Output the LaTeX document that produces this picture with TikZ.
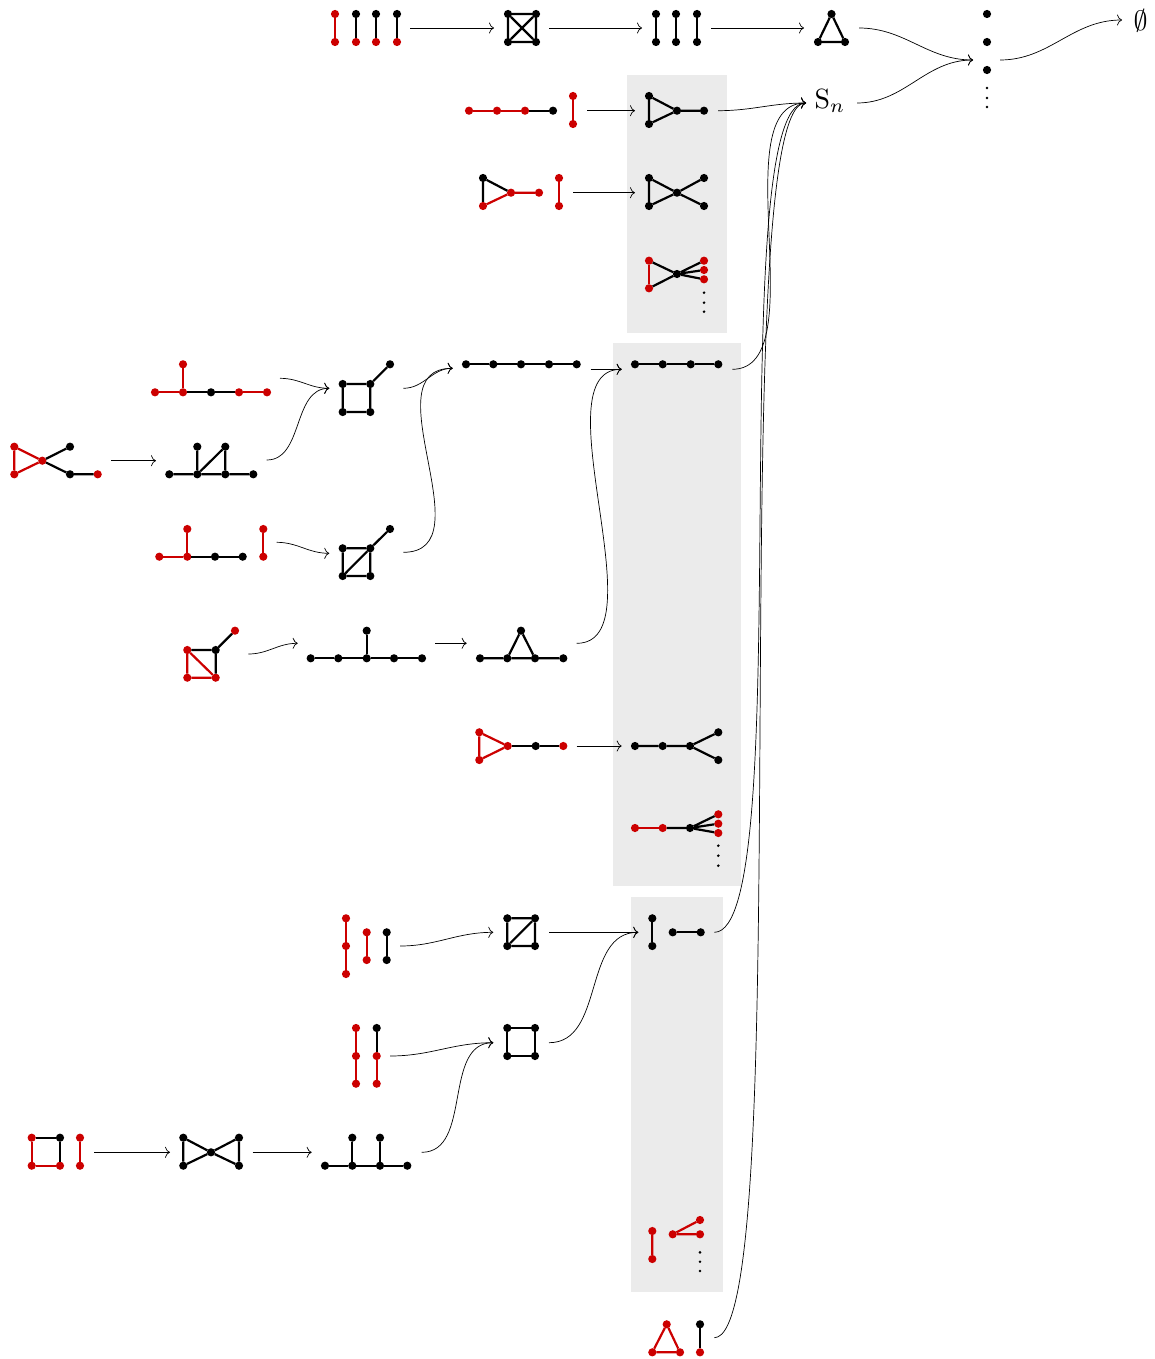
\documentclass[tikz,border=0pt]{standalone}
\usepackage{graphicx}
\usetikzlibrary{arrows.meta}
\definecolor{gred}{RGB}{204,0,0}
\definecolor{boxgray}{RGB}{235,235,235}
\newcommand\vtx[4]{\node[#4] (#1) at (#2,#3) {};}
\begin{document}
\begin{tikzpicture}[x=1pt,y=-1pt,
  bv/.style={circle,fill=black,inner sep=0pt,outer sep=0pt,minimum size=8.2pt},
  rv/.style={bv,fill=gred},
  sv/.style={circle,fill=black,inner sep=0pt,outer sep=0pt,minimum size=2.9pt},
  be/.style={line width=2.2pt,draw=black},
  re/.style={line width=2.2pt,draw=gred},
  arr/.style={line width=0.7pt,-{Computer Modern Rightarrow[length=5pt,width=11pt]}}]
\useasboundingbox (0,0) rectangle (1154,1359);
% grey boxes
\fill[boxgray] (627,75) rectangle (727,333);
\fill[boxgray] (613,343) rectangle (741,886);
\fill[boxgray] (631,897) rectangle (723,1292);

% ---------- row 1 ----------
\vtx{A1t}{335}{14}{rv}\vtx{A1b}{335}{42}{rv}
\vtx{A2t}{356}{14}{bv}\vtx{A2b}{356}{42}{rv}
\vtx{A3t}{376}{14}{bv}\vtx{A3b}{376}{42}{rv}
\vtx{A4t}{397}{14}{bv}\vtx{A4b}{397}{42}{rv}
\draw[re] (A1t)--(A1b);
\draw[be] (A2t)--(A2b) (A3t)--(A3b) (A4t)--(A4b);
\vtx{K1}{508}{14}{bv}\vtx{K2}{536}{14}{bv}\vtx{K3}{508}{42}{bv}\vtx{K4}{536}{42}{bv}
\draw[be] (K1)--(K2) (K2)--(K4) (K4)--(K3) (K3)--(K1) (K1)--(K4) (K2)--(K3);
\vtx{C1t}{656}{14}{bv}\vtx{C1b}{656}{42}{bv}
\vtx{C2t}{676}{14}{bv}\vtx{C2b}{676}{42}{bv}
\vtx{C3t}{697}{14}{bv}\vtx{C3b}{697}{42}{bv}
\draw[be] (C1t)--(C1b) (C2t)--(C2b) (C3t)--(C3b);
\vtx{T1}{831.5}{14}{bv}\vtx{T2}{818}{42}{bv}\vtx{T3}{845}{42}{bv}
\draw[be] (T1)--(T2) (T2)--(T3) (T3)--(T1);
\vtx{D1}{987}{14}{bv}\vtx{D2}{987}{42}{bv}\vtx{D3}{987}{70}{bv}
\vtx{d1}{987}{88}{sv}\vtx{d2}{987}{98}{sv}\vtx{d3}{987}{107}{sv}
\node[anchor=base,inner sep=0pt] (emp) at (1140.5,30.7) {\scalebox{2.8}{$\emptyset$}};
\node[anchor=base west,inner sep=0pt] (sn) at (814.5,108.3) {\scalebox{2.78}{$\mathrm{S}_n$}};
\coordinate (snin) at (806,103);
\coordinate (snout) at (857,103);
\coordinate (colin) at (973,60);
\coordinate (colout) at (1000,60);
\coordinate (empin) at (1122,20);
\coordinate (r1a) at (410,28);\coordinate (r1b) at (494,28);
\coordinate (r1c) at (549,28);\coordinate (r1d) at (642,28);
\coordinate (r1e) at (711,28);\coordinate (r1f) at (804,28);
\coordinate (r1g) at (859,28);
\draw[arr] (r1a)--(r1b);
\draw[arr] (r1c)--(r1d);
\draw[arr] (r1e)--(r1f);
\draw[arr] (r1g) .. controls +(46,0) and +(-46,0) .. (colin);
\draw[arr] (snout) .. controls +(48,0) and +(-48,0) .. (colin);
\draw[arr] (colout) .. controls +(50,0) and +(-50,0) .. (empin);

% ---------- row 2 ----------
\vtx{P1}{469}{110.7}{rv}\vtx{P2}{497}{110.7}{rv}\vtx{P3}{525}{110.7}{rv}\vtx{P4}{553}{110.7}{bv}
\draw[re] (P1)--(P2) (P2)--(P3); \draw[be] (P3)--(P4);
\vtx{PV1}{573}{96}{rv}\vtx{PV2}{573}{124}{rv}
\draw[re] (PV1)--(PV2);
\vtx{Q1}{649}{96}{bv}\vtx{Q2}{649}{124}{bv}\vtx{Q3}{677}{110.7}{bv}\vtx{Q4}{704}{110.7}{bv}
\draw[be] (Q1)--(Q2) (Q1)--(Q3) (Q2)--(Q3) (Q3)--(Q4);
\coordinate (r2a) at (587,110.7);\coordinate (r2b) at (635,110.7);
\coordinate (r2c) at (718,110.7);
\draw[arr] (r2a)--(r2b);
\draw[arr] (r2c) .. controls +(35,0) and +(-35,0) .. (snin);

% ---------- row 3 ----------
\vtx{E1}{483}{178}{bv}\vtx{E2}{483}{206}{rv}\vtx{E3}{511}{192.7}{rv}\vtx{E4}{539}{192.7}{rv}
\draw[be] (E1)--(E2) (E1)--(E3); \draw[re] (E2)--(E3) (E3)--(E4);
\vtx{EV1}{559}{178}{rv}\vtx{EV2}{559}{206}{rv}
\draw[re] (EV1)--(EV2);
\vtx{F1}{649}{178}{bv}\vtx{F2}{649}{206}{bv}\vtx{F3}{677}{192.7}{bv}\vtx{F4}{704}{178}{bv}\vtx{F5}{704}{206}{bv}
\draw[be] (F1)--(F2) (F1)--(F3) (F2)--(F3) (F3)--(F4) (F3)--(F5);
\coordinate (r3a) at (573,192.7);\coordinate (r3b) at (635,192.7);
\draw[arr] (r3a)--(r3b);

% ---------- row 4 (box) ----------
\vtx{H1}{649}{260.7}{rv}\vtx{H2}{649}{288.3}{rv}\vtx{H3}{677}{274}{bv}
\vtx{H4}{704}{260.7}{rv}\vtx{H5}{704}{270}{rv}\vtx{H6}{704}{279.3}{rv}
\vtx{h1}{704}{292.7}{sv}\vtx{h2}{704}{302.7}{sv}\vtx{h3}{704}{311.7}{sv}
\draw[re] (H1)--(H2);
\draw[be] (H1)--(H3) (H2)--(H3) (H3)--(H4) (H3)--(H5) (H3)--(H6);

% ---------- middle ----------
\vtx{M1}{155}{392.3}{rv}\vtx{M2}{183}{392.3}{rv}\vtx{M3}{183}{364.3}{rv}
\vtx{M4}{211}{392.3}{bv}\vtx{M5}{239}{392.3}{rv}\vtx{M6}{267}{392.3}{rv}
\draw[re] (M1)--(M2) (M2)--(M3) (M5)--(M6); \draw[be] (M2)--(M4) (M4)--(M5);

\vtx{L1}{14.3}{446.7}{rv}\vtx{L2}{14.3}{474.3}{rv}\vtx{L3}{42.3}{460.7}{rv}
\vtx{L4}{70}{446.7}{bv}\vtx{L5}{70}{474.3}{bv}\vtx{L6}{97.7}{474.3}{rv}
\draw[re] (L1)--(L2) (L1)--(L3) (L2)--(L3); \draw[be] (L3)--(L4) (L3)--(L5) (L5)--(L6);

\vtx{N1}{169.3}{474.3}{bv}\vtx{N2}{197.3}{474.3}{bv}\vtx{N3}{225.3}{474.3}{bv}
\vtx{N4}{253.3}{474.3}{bv}\vtx{N5}{197.3}{446.7}{bv}\vtx{N6}{225.3}{446.7}{bv}
\draw[be] (N1)--(N2) (N2)--(N3) (N3)--(N4) (N2)--(N5) (N3)--(N6) (N2)--(N6);

\vtx{O1}{342.7}{384}{bv}\vtx{O2}{370.3}{384}{bv}\vtx{O3}{342.7}{412}{bv}\vtx{O4}{370.3}{412}{bv}\vtx{O5}{390}{364.3}{bv}
\draw[be] (O1)--(O2) (O2)--(O4) (O4)--(O3) (O3)--(O1) (O2)--(O5);

\vtx{U1}{159.3}{556.7}{rv}\vtx{U2}{187.3}{556.7}{rv}\vtx{U3}{187.3}{529}{rv}
\vtx{U4}{215}{556.7}{bv}\vtx{U5}{242.7}{556.7}{bv}\vtx{U6}{263.3}{529}{rv}\vtx{U7}{263.3}{556.7}{rv}
\draw[re] (U1)--(U2) (U2)--(U3) (U6)--(U7); \draw[be] (U2)--(U4) (U4)--(U5);

\vtx{V1}{342.7}{548.3}{bv}\vtx{V2}{370.3}{548.3}{bv}\vtx{V3}{342.7}{576}{bv}\vtx{V4}{370.3}{576}{bv}\vtx{V5}{390}{529}{bv}
\draw[be] (V1)--(V2) (V2)--(V4) (V4)--(V3) (V3)--(V1) (V3)--(V2) (V2)--(V5);

\vtx{W1}{466}{364.3}{bv}\vtx{W2}{493.3}{364.3}{bv}\vtx{W3}{521}{364.3}{bv}\vtx{W4}{549}{364.3}{bv}\vtx{W5}{576.7}{364.3}{bv}
\draw[be] (W1)--(W2) (W2)--(W3) (W3)--(W4) (W4)--(W5);
\vtx{X1}{635}{364.3}{bv}\vtx{X2}{662.7}{364.3}{bv}\vtx{X3}{690.7}{364.3}{bv}\vtx{X4}{718.3}{364.3}{bv}
\draw[be] (X1)--(X2) (X2)--(X3) (X3)--(X4);

\vtx{Y1}{187.3}{650}{rv}\vtx{Y2}{215.7}{650}{bv}\vtx{Y3}{187.3}{677.7}{rv}\vtx{Y4}{215.7}{677.7}{rv}\vtx{Y5}{235}{630.7}{rv}
\draw[be] (Y1)--(Y2) (Y2)--(Y4) (Y2)--(Y5); \draw[re] (Y1)--(Y3) (Y3)--(Y4) (Y1)--(Y4);

\vtx{Z1}{310.7}{658.3}{bv}\vtx{Z2}{338.3}{658.3}{bv}\vtx{Z3}{366.7}{658.3}{bv}\vtx{Z4}{394}{658.3}{bv}\vtx{Z5}{422}{658.3}{bv}\vtx{Z6}{366.7}{630.7}{bv}
\draw[be] (Z1)--(Z2) (Z2)--(Z3) (Z3)--(Z4) (Z4)--(Z5) (Z3)--(Z6);

\vtx{AA1}{480}{658.3}{bv}\vtx{AA2}{507.3}{658.3}{bv}\vtx{AA3}{535}{658.3}{bv}\vtx{AA4}{563.3}{658.3}{bv}\vtx{AA5}{521}{630.7}{bv}
\draw[be] (AA1)--(AA2) (AA2)--(AA3) (AA3)--(AA4) (AA2)--(AA5) (AA3)--(AA5);

\vtx{AB1}{479.3}{732.3}{rv}\vtx{AB2}{479.3}{760}{rv}\vtx{AB3}{507.7}{746}{rv}\vtx{AB4}{535.7}{746}{bv}\vtx{AB5}{563.3}{746}{rv}
\draw[re] (AB1)--(AB2) (AB1)--(AB3) (AB2)--(AB3); \draw[be] (AB3)--(AB4) (AB4)--(AB5);

\vtx{AC1}{635}{746}{bv}\vtx{AC2}{662.7}{746}{bv}\vtx{AC3}{690}{746}{bv}\vtx{AC4}{718.3}{732.3}{bv}\vtx{AC5}{718.3}{760}{bv}
\draw[be] (AC1)--(AC2) (AC2)--(AC3) (AC3)--(AC4) (AC3)--(AC5);

\vtx{AD1}{635}{828}{rv}\vtx{AD2}{662.7}{828}{rv}\vtx{AD3}{690}{828}{bv}
\vtx{AD4}{718.3}{814.3}{rv}\vtx{AD5}{718.3}{823.7}{rv}\vtx{AD6}{718.3}{833}{rv}
\vtx{ad1}{718.3}{845.7}{sv}\vtx{ad2}{718.3}{855.7}{sv}\vtx{ad3}{718.3}{865.7}{sv}
\draw[re] (AD1)--(AD2); \draw[be] (AD2)--(AD3) (AD3)--(AD4) (AD3)--(AD5) (AD3)--(AD6);

\coordinate (m1a) at (280,378.3);\coordinate (m1b) at (329.3,388.3);
\coordinate (m2a) at (111,460.7);\coordinate (m2b) at (156,460.7);
\coordinate (m3a) at (266.7,460);
\coordinate (m4a) at (403.3,388.3);\coordinate (m4b) at (452.7,368.3);
\coordinate (m5a) at (276.7,542.3);\coordinate (m5b) at (329.3,553.3);
\coordinate (m6a) at (403.3,552.3);
\coordinate (m7a) at (590.7,369.3);\coordinate (m7b) at (621.7,369.3);
\coordinate (m8a) at (732.3,369.3);
\coordinate (m9a) at (248.3,654);\coordinate (m9b) at (297.7,643.3);
\coordinate (m10a) at (435,643.3);\coordinate (m10b) at (466.7,643.3);
\coordinate (m11a) at (576.7,643.3);
\coordinate (m12a) at (576.7,746);\coordinate (m12b) at (621.7,746);
\draw[arr] (m1a) .. controls +(20,0) and +(-20,0) .. (m1b);
\draw[arr] (m2a)--(m2b);
\draw[arr] (m3a) .. controls +(37,0) and +(-37,0) .. (m1b);
\draw[arr] (m4a) .. controls +(21,0) and +(-21,0) .. (m4b);
\draw[arr] (m5a) .. controls +(21,0) and +(-21,0) .. (m5b);
\draw[arr] (m6a) .. controls +(84,0) and +(-84,0) .. (m4b);
\draw[arr] (m7a)--(m7b);
\draw[arr] (m8a) .. controls +(84,0) and +(-84,0) .. (snin);
\draw[arr] (m9a) .. controls +(20,0) and +(-20,0) .. (m9b);
\draw[arr] (m10a)--(m10b);
\draw[arr] (m11a) .. controls +(84,0) and +(-84,0) .. (m7b);
\draw[arr] (m12a)--(m12b);

% ---------- lower ----------
\vtx{AE1}{346}{918.3}{rv}\vtx{AE2}{346}{946}{rv}\vtx{AE3}{346}{974}{rv}
\vtx{AE4}{366.7}{932.3}{rv}\vtx{AE5}{366.7}{960}{rv}
\vtx{AE6}{386.7}{932.3}{bv}\vtx{AE7}{386.7}{960}{bv}
\draw[re] (AE1)--(AE2) (AE2)--(AE3) (AE4)--(AE5); \draw[be] (AE6)--(AE7);

\vtx{AF1}{507.3}{918.3}{bv}\vtx{AF2}{535}{918.3}{bv}\vtx{AF3}{507.3}{946}{bv}\vtx{AF4}{535}{946}{bv}
\draw[be] (AF1)--(AF2) (AF2)--(AF4) (AF4)--(AF3) (AF3)--(AF1) (AF3)--(AF2);

\vtx{AG1}{652.3}{918.3}{bv}\vtx{AG2}{652.3}{946}{bv}\vtx{AG3}{672.7}{932.3}{bv}\vtx{AG4}{700.7}{932.3}{bv}
\draw[be] (AG1)--(AG2) (AG3)--(AG4);

\vtx{AH1}{356}{1028}{rv}\vtx{AH2}{356}{1056}{rv}\vtx{AH3}{356}{1083.7}{rv}
\vtx{AH4}{376.7}{1028}{bv}\vtx{AH5}{376.7}{1056}{rv}\vtx{AH6}{376.7}{1083.7}{rv}
\draw[re] (AH1)--(AH2) (AH2)--(AH3) (AH5)--(AH6); \draw[be] (AH4)--(AH5);

\vtx{AI1}{507.3}{1028}{bv}\vtx{AI2}{535}{1028}{bv}\vtx{AI3}{507.3}{1056}{bv}\vtx{AI4}{535}{1056}{bv}
\draw[be] (AI1)--(AI2) (AI2)--(AI4) (AI4)--(AI3) (AI3)--(AI1);

\vtx{AJ1}{31.7}{1137.7}{rv}\vtx{AJ2}{60}{1137.7}{bv}\vtx{AJ3}{31.7}{1165.7}{rv}\vtx{AJ4}{60}{1165.7}{rv}
\vtx{AJ5}{80}{1137.7}{rv}\vtx{AJ6}{80}{1165.7}{rv}
\draw[be] (AJ1)--(AJ2) (AJ2)--(AJ4); \draw[re] (AJ1)--(AJ3) (AJ3)--(AJ4) (AJ5)--(AJ6);

\vtx{AK1}{183.3}{1137.7}{bv}\vtx{AK2}{183.3}{1165.7}{bv}\vtx{AK3}{211}{1152.3}{bv}\vtx{AK4}{239}{1137.7}{bv}\vtx{AK5}{239}{1165.7}{bv}
\draw[be] (AK1)--(AK2) (AK4)--(AK5) (AK1)--(AK3) (AK2)--(AK3) (AK3)--(AK4) (AK3)--(AK5);

\vtx{AL1}{325}{1165.7}{bv}\vtx{AL2}{352.3}{1165.7}{bv}\vtx{AL3}{380}{1165.7}{bv}\vtx{AL4}{407.3}{1165.7}{bv}
\vtx{AL5}{352.3}{1137.7}{bv}\vtx{AL6}{380}{1137.7}{bv}
\draw[be] (AL1)--(AL2) (AL2)--(AL3) (AL3)--(AL4) (AL2)--(AL5) (AL3)--(AL6);

\vtx{AM1}{652.3}{1231}{rv}\vtx{AM2}{652.3}{1259}{rv}
\vtx{AM3}{672.7}{1234.3}{rv}\vtx{AM4}{700}{1220}{rv}\vtx{AM5}{700}{1234.3}{rv}
\vtx{am1}{700}{1252.3}{sv}\vtx{am2}{700}{1261.7}{sv}\vtx{am3}{700}{1271}{sv}
\draw[re] (AM1)--(AM2) (AM3)--(AM4) (AM3)--(AM5);

\vtx{AN1}{666.7}{1324.3}{rv}\vtx{AN2}{652.3}{1352.3}{rv}\vtx{AN3}{680}{1352.3}{rv}
\vtx{AN4}{700}{1324.3}{bv}\vtx{AN5}{700}{1352.3}{rv}
\draw[re] (AN1)--(AN2) (AN2)--(AN3) (AN3)--(AN1); \draw[be] (AN4)--(AN5);

\coordinate (l1a) at (400,946);\coordinate (l1b) at (493.3,932.3);
\coordinate (l2a) at (549,932.3);\coordinate (l2b) at (638.3,932.3);
\coordinate (l3a) at (714.3,932.3);
\coordinate (l4a) at (390,1056);\coordinate (l4b) at (493.3,1042.7);
\coordinate (l5a) at (549,1042.7);
\coordinate (l6a) at (94,1152.3);\coordinate (l6b) at (170,1152.3);
\coordinate (l7a) at (252.7,1152.3);\coordinate (l7b) at (311.7,1152.3);
\coordinate (l8a) at (421.7,1152.3);
\coordinate (l9a) at (714.3,1337.7);
\draw[arr] (l1a) .. controls +(37,0) and +(-37,0) .. (l1b);
\draw[arr] (l2a)--(l2b);
\draw[arr] (l3a) .. controls +(84,0) and +(-84,0) .. (snin);
\draw[arr] (l4a) .. controls +(41,0) and +(-41,0) .. (l4b);
\draw[arr] (l5a) .. controls +(56,0) and +(-56,0) .. (l2b);
\draw[arr] (l6a)--(l6b);
\draw[arr] (l7a)--(l7b);
\draw[arr] (l8a) .. controls +(51,0) and +(-51,0) .. (l4b);
\draw[arr] (l9a) .. controls +(84,0) and +(-84,0) .. (snin);
\end{tikzpicture}
\end{document}
